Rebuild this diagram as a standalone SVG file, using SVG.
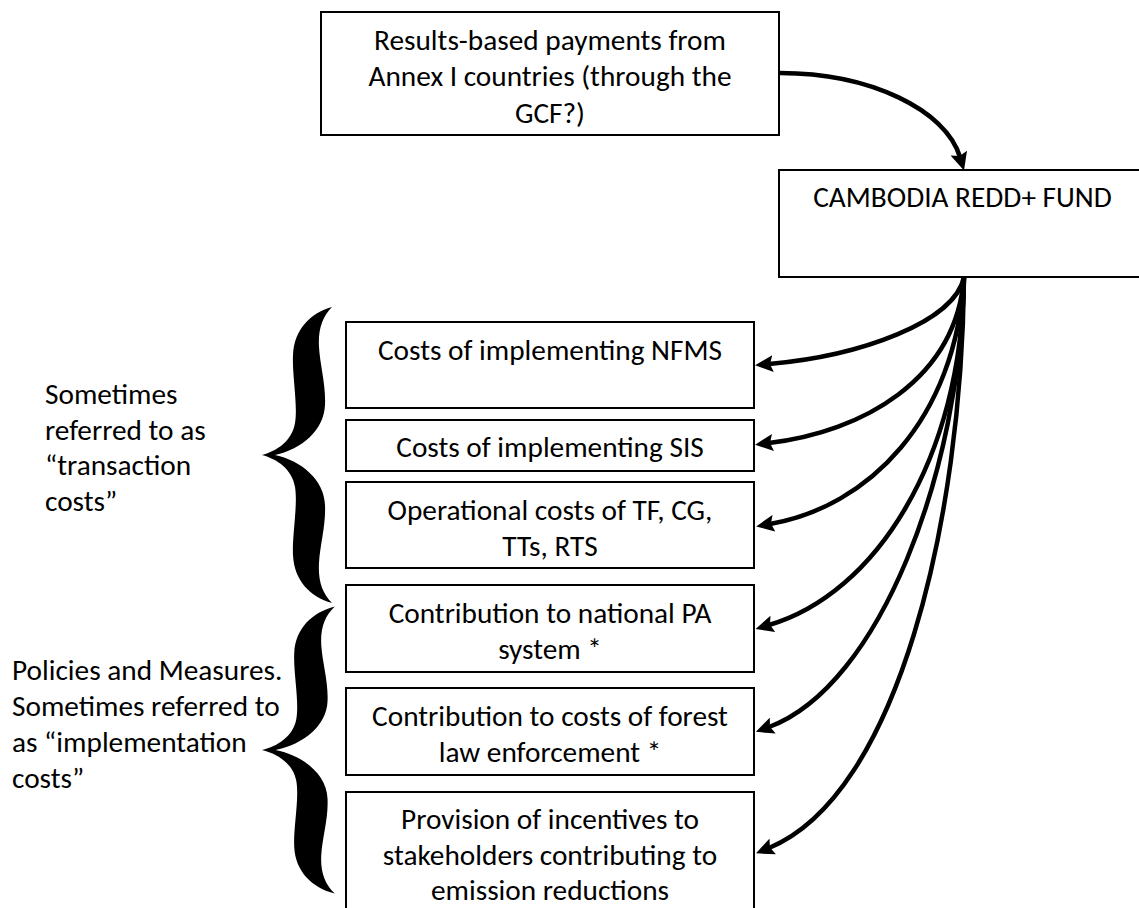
<svg xmlns="http://www.w3.org/2000/svg" xmlns:xlink="http://www.w3.org/1999/xlink" width="1139" height="908" viewBox="0 0 1139 908">
  <style>
    .box { fill: #fff; stroke: #000; stroke-width: 2; }
    .t { font-family: Calibri, Carlito, Lato, sans-serif; font-size: 29.3px; fill: #000; }
    .c { text-anchor: middle; }
    .conn { fill: none; stroke: #000; stroke-width: 4.5; marker-end: url(#arr); }
    .brace { fill: #000; }
  </style>
  <defs>
    <marker id="arr" markerUnits="userSpaceOnUse" viewBox="0 0 18 17" markerWidth="18" markerHeight="17" refX="4" refY="8.5" orient="auto">
      <path d="M0,0 L18,8.5 L0,17 L3,8.5 z" fill="#000"/>
    </marker>
    <!-- curly brace, middle point at the origin, opening to the right -->
    <path id="curly" d="M0,0 C15,-4 30,-14 33,-32 C36,-50 30,-80 31,-100 C32,-125 48,-142 70,-148 C60,-138 56,-125 57,-108 C58,-90 64,-70 63,-50 C62,-25 40,-6 13,0 C40,6 62,25 63,50 C64,70 58,90 57,108 C56,125 60,138 70,148 C48,142 32,125 31,100 C30,80 36,50 33,32 C30,14 15,4 0,0 Z"/>
  </defs>

  <!-- connectors -->
  <g id="connectors">
    <path class="conn" d="M780,73 C870,73 946,110 960,157"/>
    <path class="conn" d="M964,277 C955,322 860,356 769,364"/>
    <path class="conn" d="M964,277 C956,380 862,432 769,443"/>
    <path class="conn" d="M964,277 C956,420 868,507 770,524"/>
    <path class="conn" d="M964,277 C962,460 875,594 769,625"/>
    <path class="conn" d="M964,277 C961,470 880,686 769,727"/>
    <path class="conn" d="M964,277 C962,520 898,795 769,848"/>
  </g>

  <g id="payments">
    <rect class="box" x="321" y="12" width="458" height="123"/>
    <text class="t c" x="550" y="49.5">Results-based payments from</text>
    <text class="t c" x="550" y="86">Annex I countries (through the</text>
    <text class="t c" x="550" y="122.5">GCF?)</text>
  </g>

  <g id="fund">
    <rect class="box" x="779" y="170" width="380" height="107"/>
    <text class="t c" x="962.5" y="207">CAMBODIA REDD+ FUND</text>
  </g>

  <g id="nfms">
    <rect class="box" x="346" y="322" width="408" height="86"/>
    <text class="t c" x="550" y="360">Costs of implementing NFMS</text>
  </g>

  <g id="sis">
    <rect class="box" x="346" y="420" width="408" height="51"/>
    <text class="t c" x="550" y="457">Costs of implementing SIS</text>
  </g>

  <g id="operational">
    <rect class="box" x="346" y="482" width="408" height="86"/>
    <text class="t c" x="550" y="519.5">Operational costs of TF, CG,</text>
    <text class="t c" x="550" y="555.5">TTs, RTS</text>
  </g>

  <g id="pa-system">
    <rect class="box" x="346" y="585" width="408" height="87"/>
    <text class="t c" x="550" y="622.5">Contribution to national PA</text>
    <text class="t c" x="550" y="658.5">system *</text>
  </g>

  <g id="law-enforcement">
    <rect class="box" x="346" y="688" width="408" height="87"/>
    <text class="t c" x="550" y="725.5">Contribution to costs of forest</text>
    <text class="t c" x="550" y="761.5">law enforcement *</text>
  </g>

  <g id="incentives">
    <rect class="box" x="346" y="792" width="408" height="130"/>
    <text class="t c" x="550" y="829">Provision of incentives to</text>
    <text class="t c" x="550" y="864.5">stakeholders contributing to</text>
    <text class="t c" x="550" y="900">emission reductions</text>
  </g>

  <g id="transaction-costs">
    <use xlink:href="#curly" class="brace" transform="translate(262,455)"/>
    <text class="t" x="45" y="404">Sometimes</text>
    <text class="t" x="45" y="439.5">referred to as</text>
    <text class="t" x="45" y="475">“transaction</text>
    <text class="t" x="45" y="510.5">costs”</text>
  </g>

  <g id="implementation-costs">
    <use xlink:href="#curly" class="brace" transform="translate(262,750) scale(1.04,0.97)"/>
    <text class="t" x="12" y="680">Policies and Measures.</text>
    <text class="t" x="12" y="716">Sometimes referred to</text>
    <text class="t" x="12" y="752">as “implementation</text>
    <text class="t" x="12" y="787.5">costs”</text>
  </g>
</svg>
